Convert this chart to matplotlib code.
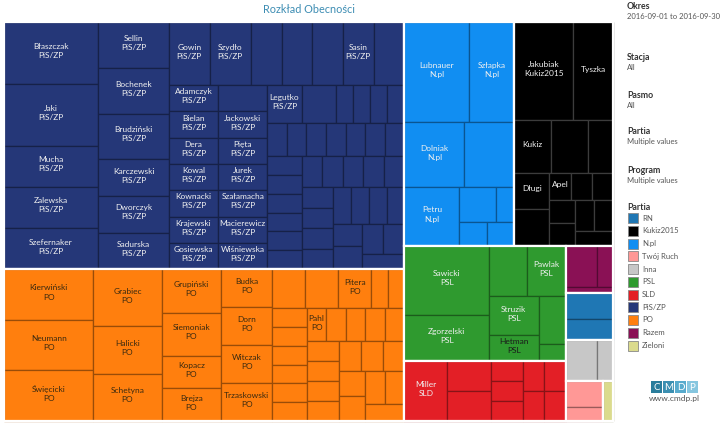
import matplotlib.pyplot as plt
from matplotlib.patches import Rectangle
from matplotlib.colors import to_rgb

# --- data: appearances per politician, grouped by party ---
pis_names = ["Błaszczak", "Jaki", "Mucha", "Zalewska", "Szefernaker",
             "Sellin", "Bochenek", "Brudziński", "Karczewski", "Dworczyk", "Sadurska",
             "Gowin", "Szydło", "", "", "", "Sasin", "",
             "Adamczyk", "Bielan", "Dera", "Kowal", "Kownacki", "Krajewski", "Gosiewska",
             "", "Jackowski", "Pięta", "Jurek", "Szałamacha", "Macierewicz", "Wiśniewska",
             "Legutko", "",
             "", "", "", "", "", "", "", "", "", "", "", "", "", "", "", "", "", "",
             "", "", "", "", "", "", "", "", "", "", "", "", "", "", "", "", ""]
pis_values = [9, 9, 6, 6, 6,
              5, 5, 5, 4, 4, 4,
              4, 4, 3, 3, 3, 3, 3,
              2, 2, 2, 2, 2, 2, 2,
              2, 2, 2, 2, 2, 2, 2,
              2, 2,
              1, 1, 1, 1, 1, 1, 1, 1, 1, 1, 1, 1, 1, 1, 1, 1, 1, 1,
              1, 1, 1, 1, 1, 1, 1, 1, 1, 1, 1, 1, 1, 1, 1, 1, 1]

po_names = ["Kierwiński", "Neumann", "Święcicki", "Grabiec", "Halicki", "Schetyna",
            "Grupiński", "Siemoniak", "Kopacz", "Brejza", "Budka", "Dorn", "Witczak",
            "Trzaskowski", "", "", "Pitera",
            "", "", "", "", "", "", "", "", "Pahl", "", "", "", "",
            "", "", "", "", "", "", "", "", "", "", "", ""]
po_values = [7, 7, 7, 6, 5, 5,
             4, 4, 3, 3, 3, 3, 3,
             3, 2, 2, 2,
             1, 1, 1, 1, 1, 1, 1, 1, 1, 1, 1, 1, 1,
             1, 1, 1, 1, 1, 1, 1, 1, 1, 1, 1, 1]

npl_names = ["Lubnauer", "Szłapka", "Dolniak", "", "Petru", "", "", "", ""]
npl_values = [10, 7, 6, 5, 5, 2, 1, 1, 1]

kukiz_names = ["Jakubiak", "Tyszka", "Kukiz", "", "", "Długi", "", "Apel",
               "", "", "", "", "", "", ""]
kukiz_values = [9, 6, 3, 3, 2, 2, 2, 0.9, 0.9, 0.9, 0.9, 0.9, 0.9, 0.9, 0.9]

psl_names = ["Sawicki", "Zgorzelski", "", "Pawlak", "Struzik", "Hetman", "", ""]
psl_values = [9, 6, 3, 3, 3, 2, 2, 0.7]

sld_names = ["Miller", "", "", "", "", "", "", "", "", ""]
sld_values = [4, 2, 2, 1, 1, 1, 1, 1, 1, 1]

razem_names = ["Zandberg", "", ""]
razem_values = [2, 1, 0.45]

rn_values = [1.9, 1.5]
inna_values = [2, 1]
twoj_ruch_values = [1.5, 0.8]
zieloni_values = [0.6]

parties = ["PiS/ZP", "PO", "N.pl", "Kukiz2015", "PSL", "SLD", "Razem", "RN",
           "Inna", "Twój Ruch", "Zieloni"]
party_names = [pis_names, po_names, npl_names, kukiz_names, psl_names, sld_names,
               razem_names, ["", ""], ["", ""], ["", ""], [""]]
party_values = [pis_values, po_values, npl_values, kukiz_values, psl_values,
                sld_values, razem_values, rn_values, inna_values,
                twoj_ruch_values, zieloni_values]

legend_order = ["RN", "Kukiz2015", "N.pl", "Twój Ruch", "Inna", "PSL", "SLD",
                "PiS/ZP", "PO", "Razem", "Zieloni"]
colors = {"RN": "#1f77b4", "Kukiz2015": "#000000", "N.pl": "#118ef2",
          "Twój Ruch": "#ff9896", "Inna": "#c7c7c7", "PSL": "#2f9a2f",
          "SLD": "#e31f26", "PiS/ZP": "#253778", "PO": "#ff7f0e",
          "Razem": "#8a1155", "Zieloni": "#dbdb8d"}
text_colors = {"PO": "#3a2a10"}

filters = [("Okres", "2016-09-01 to 2016-09-30"), ("Stacja", "All"),
           ("Pasmo", "All"), ("Partia", "Multiple values"),
           ("Program", "Multiple values")]

AVG_LIMIT = 2.18
WORST_LIMIT = 2.72


def row_stats(row, side):
    thick = sum(row) / side
    ratios = []
    for a in row:
        length = a / thick
        ratios.append(max(thick / length, length / thick))
    return sum(ratios) / len(ratios), max(ratios)


def squarify(values, x, y, w, h):
    # squarified layout, a bit looser than the textbook rule
    order = sorted(range(len(values)), key=lambda k: -values[k])
    scale = w * h / sum(values)
    areas = [values[k] * scale for k in order]
    rects = [None] * len(values)
    i = 0
    while i < len(areas):
        side = min(w, h)
        row = [areas[i]]
        cur = row_stats(row, side)
        j = i + 1
        while j < len(areas):
            new = row_stats(row + [areas[j]], side)
            if new[0] <= cur[0] or (new[0] <= AVG_LIMIT and new[1] <= WORST_LIMIT):
                row.append(areas[j])
                cur = new
                j += 1
            else:
                break
        thick = sum(row) / side
        pos = 0
        for n, a in enumerate(row):
            length = a / thick
            if w >= h:
                rects[order[i + n]] = (x, y + pos, thick, length)
            else:
                rects[order[i + n]] = (x + pos, y, length, thick)
            pos += length
        if w >= h:
            x += thick
            w -= thick
        else:
            y += thick
            h -= thick
        i = j
    return rects


def darker(c, f=0.6):
    r, g, b = to_rgb(c)
    return (r * f, g * f, b * f)


plt.rcParams['font.family'] = ['Lato', 'DejaVu Sans']
fig = plt.figure(figsize=(7.2, 4.25), dpi=100)
ax = fig.add_axes([0, 0, 1, 1])
ax.set_xlim(0, 720)
ax.set_ylim(425, 0)
ax.axis('off')
renderer = fig.canvas.get_renderer()

ax.text(309, 9, "Rozkład Obecności", ha='center', va='center', fontsize=7.8,
        color='#3d8db3')

totals = [sum(v) for v in party_values]
party_rects = squarify(totals, 4, 22, 609, 399)

for party, names, values, (px, py, pw, ph) in zip(parties, party_names, party_values, party_rects):
    col = colors[party]
    edge = '#3c3c3c' if party == "Kukiz2015" else darker(col)
    tcol = text_colors.get(party, '#f0f0f0')
    for name, (x, y, w, h) in zip(names, squarify(values, px, py, pw, ph)):
        ax.add_patch(Rectangle((x, y), w, h, facecolor=col, edgecolor=edge, linewidth=0.9))
        if not name:
            continue
        c = '#1a1a1a' if name == "Hetman" else tcol
        t = ax.text(x + w / 2, y + h / 2 - 2, name + "\n" + party, ha='center',
                    va='center', fontsize=6.0, color=c, linespacing=1.35)
        bb = t.get_window_extent(renderer)
        if bb.width > w or bb.height > h:
            t.set_text(name)
            bb = t.get_window_extent(renderer)
            if bb.width > w + 3:
                t.remove()
    ax.add_patch(Rectangle((px, py), pw, ph, facecolor='none', edgecolor='white',
                           linewidth=1.6))

# filter cards on the right
ys = [6, 57, 95, 131, 170]
for (head, val), y in zip(filters, ys):
    ax.text(627, y, head, ha='left', va='center', fontsize=6.3, fontweight='bold',
            color='#333333')
    ax.text(627, y + 10.5, val, ha='left', va='center', fontsize=5.5, color='#555555')

ax.text(627, 207, "Partia", ha='left', va='center', fontsize=6.3, fontweight='bold',
        color='#333333')
for k, party in enumerate(legend_order):
    y = 218 + 12.75 * k
    ax.add_patch(Rectangle((628, y - 5), 10, 10, facecolor=colors[party],
                           edgecolor='#888888', linewidth=0.6))
    ax.text(642, y, party, ha='left', va='center', fontsize=5.6, color='#555555')

# cmdp logo
logo_colors = ["#2a7d9c", "#3b8fb1", "#58abcd", "#86c6df"]
for k, (letter, lc) in enumerate(zip("CMDP", logo_colors)):
    ax.add_patch(Rectangle((651 + 12 * k, 381), 11, 12, facecolor=lc, edgecolor='none'))
    ax.text(656.5 + 12 * k, 387.5, letter, ha='center', va='center', fontsize=7,
            color='white')
ax.text(674, 398, "www.cmdp.pl", ha='center', va='center', fontsize=6, color='#555555')

fig.savefig("out.png", dpi=100)
